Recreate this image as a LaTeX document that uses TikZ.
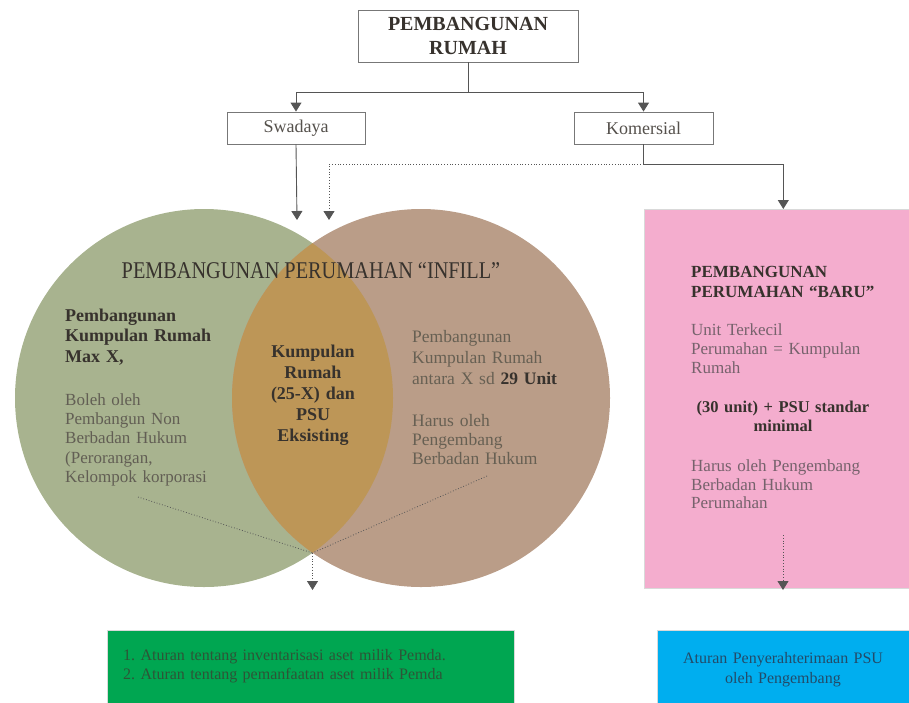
\documentclass[tikz,border=0pt]{standalone}
\usepackage{fontspec}
\setmainfont{Liberation Serif}
\newfontfamily\sempit[FakeStretch=0.845]{Liberation Serif}
\usepackage{tikz}
\usetikzlibrary{positioning,shapes,arrows.meta}
\usepackage{xcolor}
\definecolor{garis}{RGB}{85,85,85}
\definecolor{hijauL}{RGB}{168,179,143}
\definecolor{coklatR}{RGB}{186,157,136}
\definecolor{irisan}{RGB}{189,150,87}
\definecolor{merahmuda}{RGB}{244,173,206}
\definecolor{hijau}{RGB}{0,166,81}
\definecolor{biru}{RGB}{0,174,239}
\definecolor{tua}{RGB}{55,50,45}
\definecolor{abu}{RGB}{98,94,84}
\definecolor{abupink}{RGB}{118,98,108}
\definecolor{tekshijau}{RGB}{45,85,55}
\definecolor{teksbiru}{RGB}{35,75,105}
\frenchspacing

\begin{document}
\begin{tikzpicture}[x=1pt,y=-1pt]
	% 定义形状
	\tikzstyle{kotak} = [rectangle, draw=garis!80, line width=0.9pt, fill=white, text centered, inner sep=0pt]	% 白框
	\tikzstyle{blok} = [rectangle, inner sep=0pt, draw=black!15, line width=0.6pt]	% 色块
	\tikzstyle{lingkar} = [circle, minimum size=378pt, inner sep=0pt]	% 圆
	\tikzstyle{tebal} = [text=tua, inner sep=0pt, font=\fontsize{18}{20.5}\selectfont\bfseries]	% 粗体文字
	\tikzstyle{biasa} = [text=abu, inner sep=0pt, font=\fontsize{17}{19.25}\selectfont]	% 普通文字
	\tikzstyle{arrow} = [line width=0.9pt, draw=garis, -{Triangle[width=11pt,length=9pt]}]	% 定义箭头
	\tikzstyle{garisan} = [line width=0.9pt, draw=garis]
	\tikzstyle{titik} = [dotted, line width=0.8pt, draw=garis]
	\tikzstyle{titikpanah} = [titik, -{Triangle[width=11pt,length=9pt]}]
	\useasboundingbox (0,0) rectangle (909,702);

	% 顶部
	\node (rumah) [kotak, minimum width=220pt, minimum height=52pt, align=center, font=\fontsize{20}{24.5}\selectfont\bfseries, text=tua] at (468,36) {PEMBANGUNAN\\RUMAH};
	\node (swadaya) [kotak, minimum width=138pt, minimum height=32pt, font=\fontsize{18}{20}\selectfont, text=tua!85] at (296,128) {Swadaya};
	\node (komersial) [kotak, minimum width=139pt, minimum height=32pt, font=\fontsize{18}{20}\selectfont, text=tua!85] at (643.5,128) {Komersial};

	% 两个圆
	\node (kiri) [lingkar, fill=hijauL] at (204,398) {};
	\node (kanan) [lingkar, fill=coklatR] at (421,398) {};
	\begin{scope}
		\clip (kiri.center) circle (189pt);
		\fill[irisan] (kanan.center) circle (189pt);
	\end{scope}
	\coordinate (bawah) at (312.5,553);

	\node (judul) [anchor=base, inner sep=0pt, text=tua, font=\fontsize{24}{26}\sempit] at (311,278) {PEMBANGUNAN PERUMAHAN “INFILL”};
	\node (kiri1) [tebal, anchor=north west, text width=170pt, align=left] at (65,308.7) {Pembangunan\\Kumpulan Rumah\\Max X,};
	\node (kiri2) [biasa, anchor=north west, text width=170pt, align=left] at (65,393.4) {Boleh oleh\\Pembangun Non\\Berbadan Hukum\\(Perorangan,\\Kelompok korporasi};
	\node (tengah) [tebal, anchor=north, text width=130pt, align=center, font=\fontsize{18}{21}\selectfont\bfseries] at (313,344.8) {Kumpulan\\Rumah\\(25-X) dan\\PSU\\Eksisting};
	\node (kanan1) [biasa, text=abu!95!brown, anchor=north west, text width=180pt, align=left, font=\fontsize{17.5}{21}\selectfont] at (412,330) {Pembangunan\\Kumpulan Rumah\\antara X sd \textbf{\color{tua}29 Unit}};
	\node (kanan2) [biasa, text=abu!95!brown, anchor=north west, text width=180pt, align=left, font=\fontsize{17.5}{19}\selectfont] at (412,414) {Harus oleh\\Pengembang\\Berbadan Hukum};

	% 右侧粉色框
	\node (baru) [blok, fill=merahmuda, anchor=north west, minimum width=278pt, minimum height=379pt] at (644,209) {};
	\node (baru1) [tebal, anchor=north west, text width=200pt, align=left, font=\fontsize{17}{20}\selectfont\bfseries] at (691,265.7) {PEMBANGUNAN\\PERUMAHAN “BARU”};
	\node (baru2) [biasa, text=abupink, anchor=north west, text width=200pt, align=left, font=\fontsize{17}{19}\selectfont] at (691,323.4) {Unit Terkecil\\Perumahan = Kumpulan\\Rumah};
	\node (baru3) [tebal, anchor=north, text width=200pt, align=center, font=\fontsize{16.5}{19}\selectfont\bfseries] at (783,400.5) {(30 unit) + PSU standar\\minimal};
	\node (baru4) [biasa, text=abupink, anchor=north west, text width=200pt, align=left, font=\fontsize{17}{18.7}\selectfont] at (691,459.4) {Harus oleh Pengembang\\Berbadan Hukum\\Perumahan};

	% 底部
	\node (aset) [blok, fill=hijau, anchor=north west, minimum width=407pt, minimum height=80pt] at (107,630) {};
	\node (aset1) [anchor=north west, inner sep=0pt, text=tekshijau, text width=380pt, align=left, font=\fontsize{16}{19}\selectfont] at (123,649) {1. Aturan tentang inventarisasi aset milik Pemda.\\2. Aturan tentang pemanfaatan aset milik Pemda};
	\node (psu) [blok, fill=biru, anchor=north west, minimum width=252pt, minimum height=80pt] at (657,630) {};
	\node (psu1) [anchor=north, inner sep=0pt, text=teksbiru, text width=240pt, align=center, font=\fontsize{16}{20}\selectfont] at (783,652) {Aturan Penyerahterimaan PSU\\oleh Pengembang};

	% 连接
	\coordinate (cabang) at (468,92);
	\coordinate (masukSw) at (297,220);
	\coordinate (belok) at (643.5,164);
	\coordinate (masukKom) at (329,220);
	\coordinate (catL) at (138,497);
	\coordinate (catR) at (487,476);
	\coordinate (turun) at (312.5,590);
	\coordinate (akhirBaru) at (783,590);
	\coordinate (awalBaru) at (783,535);

	\draw [garisan] (rumah.south) -- (cabang);
	\draw [arrow] (cabang) -| (swadaya.north);
	\draw [arrow] (cabang) -| (komersial.north);
	\draw [arrow] (swadaya.south) -- (masukSw);
	\draw [garisan] (komersial.south) -- (belok);
	\draw [arrow] (belok) -| (baru.north);
	\draw [titikpanah] (belok) -| (masukKom);
	\draw [titik] (catL) -- (bawah);
	\draw [titik] (catR) -- (bawah);
	\draw [titikpanah] (bawah) -- (turun);
	\draw [titikpanah] (awalBaru) -- (akhirBaru);
\end{tikzpicture}
\end{document}
